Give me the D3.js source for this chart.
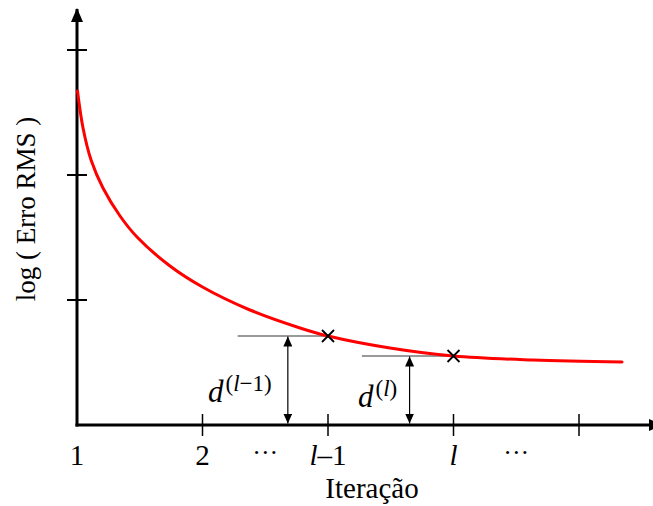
<!DOCTYPE html>
<html>
<head>
<meta charset="utf-8">
<script src="https://cdn.jsdelivr.net/npm/d3@7"></script>
<style>
  html, body { margin: 0; padding: 0; background: #fff; }
  svg { display: block; }
  text { font-family: "Liberation Serif", "Times New Roman", serif; fill: #000; }
</style>
</head>
<body>
<svg id="chart" width="653" height="506"></svg>
<script>
// Convergence curve: log of RMS error against iteration count
const iterations = [1.004, 1.048, 1.112, 1.207, 1.343, 1.478, 1.741, 2.0, 2.378, 2.777, 3.0, 3.494, 4.0, 4.633, 5.343];
const logError   = [2.672, 2.376, 2.12, 1.896, 1.672, 1.504, 1.272, 1.104, 0.92, 0.776, 0.712, 0.616, 0.552, 0.52, 0.504];

// Marked iterations l-1 and l
const markedIter  = [3, 4];
const markedError = [0.712, 0.552];

// Axis ticks
const xTicks      = [1, 2, 3, 4, 5];
const xTickLabels = ["1", "2", "l–1", "l", ""];
const ellipsisAt  = [2.5, 4.5];
const yTicks      = [1, 2, 3];

const svg = d3.select("#chart");

const x = d3.scaleLinear().domain([1, 5]).range([77, 579]);
const y = d3.scaleLinear().domain([0, 3]).range([425, 50]);

const x0 = x(1), y0 = y(0);

// Arrow heads
const defs = svg.append("defs");
defs.append("marker")
  .attr("id", "axisHead")
  .attr("viewBox", "0 0 14 12")
  .attr("refX", 13).attr("refY", 6)
  .attr("markerWidth", 14).attr("markerHeight", 12)
  .attr("markerUnits", "userSpaceOnUse")
  .attr("orient", "auto")
  .append("path").attr("d", "M0,0 L14,6 L0,12 Z").attr("fill", "#000");

defs.append("marker")
  .attr("id", "dimHead")
  .attr("viewBox", "0 0 10 9")
  .attr("refX", 10).attr("refY", 4.5)
  .attr("markerWidth", 10).attr("markerHeight", 9)
  .attr("markerUnits", "userSpaceOnUse")
  .attr("orient", "auto-start-reverse")
  .append("path").attr("d", "M0,0 L10,4.5 L0,9 Z").attr("fill", "#000");

// Y axis
svg.append("line")
  .attr("x1", x0).attr("y1", y0 + 1.5)
  .attr("x2", x0).attr("y2", 9)
  .attr("stroke", "#000").attr("stroke-width", 3)
  .attr("marker-end", "url(#axisHead)");

svg.selectAll(".ytick").data(yTicks).enter().append("line")
  .attr("x1", x0 - 10).attr("x2", x0 + 10)
  .attr("y1", d => y(d)).attr("y2", d => y(d))
  .attr("stroke", "#000").attr("stroke-width", 2);

// X axis
svg.append("line")
  .attr("x1", x0 - 1.5).attr("y1", y0)
  .attr("x2", 662).attr("y2", y0)
  .attr("stroke", "#000").attr("stroke-width", 3)
  .attr("marker-end", "url(#axisHead)");

svg.selectAll(".xtick").data(xTicks.slice(1)).enter().append("line")
  .attr("x1", d => x(d)).attr("x2", d => x(d))
  .attr("y1", y0 - 11).attr("y2", y0 + 11)
  .attr("stroke", "#000").attr("stroke-width", 1.5);

// X tick labels (l is set in italics)
const xl = svg.selectAll(".xlabel").data(xTicks).enter().append("text")
  .attr("x", d => x(d)).attr("y", 465)
  .attr("text-anchor", "middle")
  .attr("font-size", 29);
xl.each(function(d, i) {
  const t = d3.select(this);
  const lab = xTickLabels[i];
  if (lab.startsWith("l")) {
    t.append("tspan").attr("font-style", "italic").text("l");
    t.append("tspan").text(lab.slice(1));
  } else {
    t.text(lab);
  }
});

svg.selectAll(".ellipsis").data(ellipsisAt).enter().append("text")
  .attr("x", d => x(d)).attr("y", 461)
  .attr("text-anchor", "middle")
  .attr("font-size", 26)
  .text("···");

// Axis titles
svg.append("text")
  .attr("x", 372).attr("y", 498)
  .attr("text-anchor", "middle")
  .attr("font-size", 29)
  .text("Iteração");

svg.append("text")
  .attr("transform", "translate(35,209) rotate(-90)")
  .attr("text-anchor", "middle")
  .attr("font-size", 27)
  .text("log ( Erro RMS )");

// Horizontal reference lines at the marked iterations
const refStart = [2.28, 3.27];
svg.selectAll(".ref").data(markedIter).enter().append("line")
  .attr("x1", (d, i) => x(refStart[i])).attr("x2", d => x(d))
  .attr("y1", (d, i) => y(markedError[i])).attr("y2", (d, i) => y(markedError[i]))
  .attr("stroke", "#777").attr("stroke-width", 1.5);

// Curve
const line = d3.line()
  .x((d, i) => x(iterations[i]))
  .y(d => y(d))
  .curve(d3.curveCatmullRom.alpha(0.5));

svg.append("path")
  .datum(logError)
  .attr("d", line)
  .attr("fill", "none")
  .attr("stroke", "#f00")
  .attr("stroke-width", 3)
  .attr("stroke-linecap", "round");

// Markers
const s = 6;
svg.selectAll(".mark").data(markedIter).enter().append("path")
  .attr("d", (d, i) => {
    const cx = x(d), cy = y(markedError[i]);
    return `M${cx - s},${cy - s}L${cx + s},${cy + s}M${cx - s},${cy + s}L${cx + s},${cy - s}`;
  })
  .attr("stroke", "#000").attr("stroke-width", 1.8).attr("fill", "none");

// Distance arrows from the axis up to each marked error level
const dimAt = [2.68, 3.65];
svg.selectAll(".dim").data(markedIter).enter().append("line")
  .attr("x1", (d, i) => x(dimAt[i])).attr("x2", (d, i) => x(dimAt[i]))
  .attr("y1", (d, i) => y(markedError[i]) + 0.5).attr("y2", y0 - 1.5)
  .attr("stroke", "#000").attr("stroke-width", 1.2)
  .attr("marker-start", "url(#dimHead)")
  .attr("marker-end", "url(#dimHead)");

// d labels
const dLabels = [
  { x: 208, y: 402, sup: "l−1" },
  { x: 358, y: 407, sup: "l" }
];
dLabels.forEach(o => {
  const t = svg.append("text").attr("x", o.x).attr("y", o.y).attr("font-size", 31);
  t.append("tspan").attr("font-style", "italic").text("d");
  t.append("tspan").attr("font-size", 23).attr("dy", -11).attr("dx", 2).text("(");
  t.append("tspan").attr("font-size", 23).attr("font-style", "italic").text("l");
  if (o.sup.length > 1) t.append("tspan").attr("font-size", 23).text("−1");
  t.append("tspan").attr("font-size", 23).text(")");
});
</script>
</body>
</html>
